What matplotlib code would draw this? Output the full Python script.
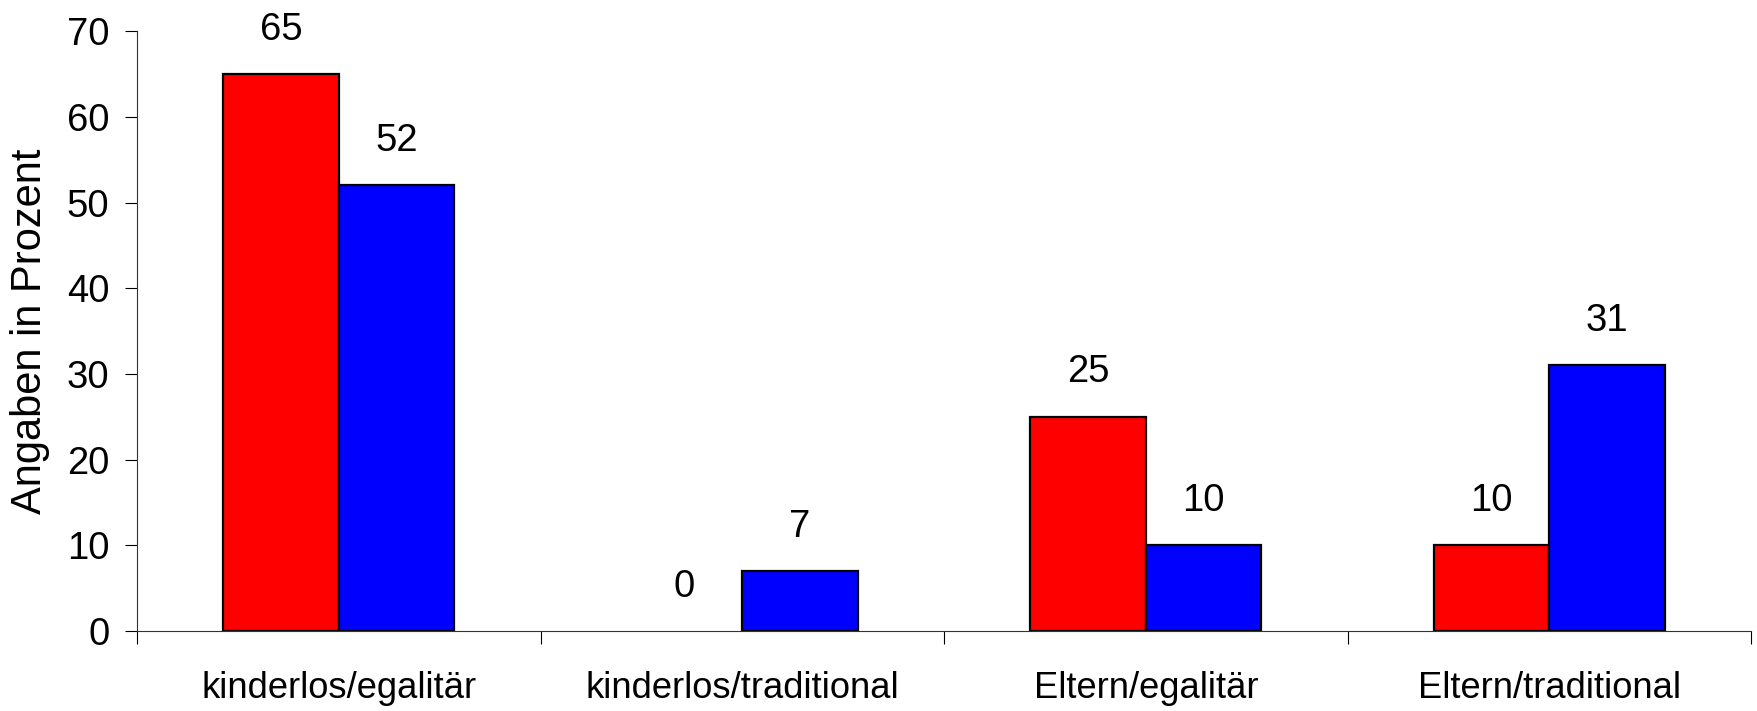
import matplotlib
matplotlib.use("Agg")
import matplotlib.pyplot as plt
import numpy as np

categories = ["kinderlos/egalitär", "kinderlos/traditional", "Eltern/egalitär", "Eltern/traditional"]
series_red = [65, 0, 25, 10]
series_blue = [52, 7, 10, 31]
yticks = [0, 10, 20, 30, 40, 50, 60, 70]

plt.rcParams['font.family'] = ['Liberation Sans', 'DejaVu Sans']

fig = plt.figure(figsize=(17.57, 7.11), dpi=100)
ax = fig.add_axes([0.078, 0.1125, 0.9186, 0.8435])

x = np.arange(len(categories))
w = 0.286
b1 = ax.bar(x - w/2, series_red, w, color='#ff0000', edgecolor='black', linewidth=1.6, zorder=3)
b2 = ax.bar(x + w/2, series_blue, w, color='#0000ff', edgecolor='black', linewidth=1.6, zorder=3)

for bars, vals in ((b1, series_red), (b2, series_blue)):
    for r, v in zip(bars, vals):
        if v == 0:
            r.set_linewidth(0)
        ax.annotate(str(v), (r.get_x() + r.get_width()/2, v), xytext=(0, 32),
                    textcoords='offset points', ha='center', va='center', fontsize=27.5)

ax.set_xlim(-0.5, len(categories) - 0.5)
ax.set_ylim(0, 70)
ax.set_yticks(yticks)
ax.tick_params(axis='y', labelsize=27.5, length=8.5, width=0.8, pad=11.5, direction='out')

ax.set_xticks(x)
ax.set_xticklabels(categories, fontsize=26.2)
ax.tick_params(axis='x', which='major', length=0, pad=29)
ax.set_xticks(np.arange(len(categories) + 1) - 0.5, minor=True)
ax.tick_params(axis='x', which='minor', length=9.5, width=0.8, direction='out')

for s in ('top', 'right'):
    ax.spines[s].set_visible(False)
for s in ('left', 'bottom'):
    ax.spines[s].set_linewidth(0.8)
    ax.spines[s].set_color('#333333')

ax.set_ylabel("Angaben in Prozent", fontsize=30)
ax.yaxis.set_label_coords(-0.054, 0.5)

fig.savefig("out.png", dpi=100)
